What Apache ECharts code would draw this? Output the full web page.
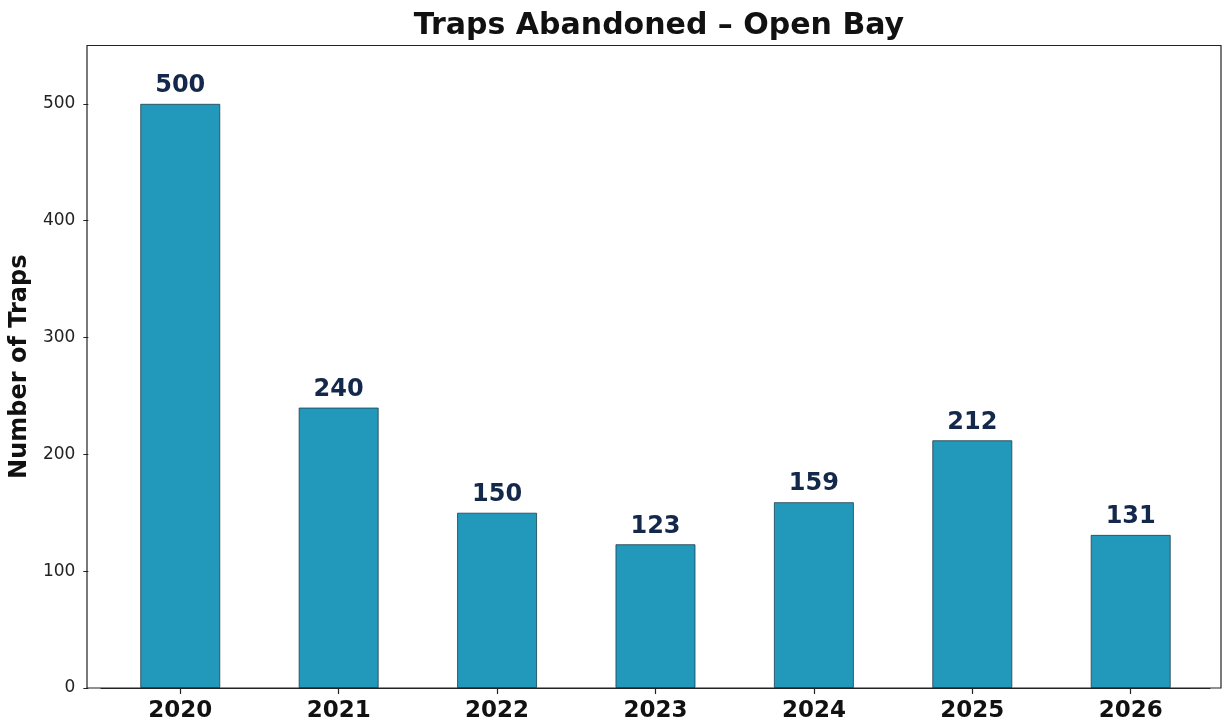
<!DOCTYPE html>
<html>
<head>
<meta charset="utf-8">
<script src="https://cdn.jsdelivr.net/npm/echarts@6/dist/echarts.min.js"></script>
<style>
  html, body { margin: 0; padding: 0; background: #ffffff; }
  #chart { width: 1225px; height: 724px; }
</style>
</head>
<body>
<div id="chart"></div>
<script>
// Abandoned traps per year, Open Bay
const years = ['2020', '2021', '2022', '2023', '2024', '2025', '2026'];
const trapsAbandoned = [500, 240, 150, 123, 159, 212, 131];
const yTicks = [0, 100, 200, 300, 400, 500];

const chart = echarts.init(document.getElementById('chart'), null, { renderer: 'canvas' });

// Plot frame (axes box) in pixels
const frame = { left: 87, top: 45.5, right: 1221, bottom: 688 };
// Category bands: 7 bands of ~158.6 px, first centre at x = 179
const band = (frame.right - frame.left) / 7.15;
const gridLeft = 179 - band / 2;
const gridWidth = band * 7;

const option = {
  backgroundColor: '#ffffff',
  animation: false,
  title: {
    text: 'Traps Abandoned – Open Bay',
    left: (frame.left + frame.right) / 2,
    textAlign: 'center',
    top: 6,
    textStyle: {
      fontFamily: 'DejaVu Sans',
      fontWeight: 'bold',
      fontSize: 30,
      color: '#111111'
    }
  },
  grid: {
    left: gridLeft,
    width: gridWidth,
    top: frame.top,
    height: frame.bottom - frame.top
  },
  xAxis: {
    type: 'category',
    data: years,
    axisLine: { show: true, lineStyle: { color: '#222222', width: 1.2 } },
    axisTick: {
      show: true,
      alignWithLabel: true,
      length: 6,
      lineStyle: { color: '#222222', width: 1.2 }
    },
    axisLabel: {
      margin: 12,
      fontFamily: 'DejaVu Sans',
      fontWeight: 'bold',
      fontSize: 23,
      color: '#111111'
    },
    splitLine: { show: false }
  },
  yAxis: {
    type: 'value',
    min: 0,
    max: 550,
    interval: 100,
    offset: gridLeft - frame.left,
    name: 'Number of Traps',
    nameLocation: 'middle',
    nameRotate: 90,
    nameGap: 47,
    nameTextStyle: {
      fontFamily: 'DejaVu Sans',
      fontWeight: 'bold',
      fontSize: 24,
      color: '#111111'
    },
    axisLine: { show: false },
    axisTick: {
      show: true,
      length: 5,
      customValues: yTicks,
      lineStyle: { color: '#222222', width: 1 }
    },
    axisLabel: {
      margin: 13,
      customValues: yTicks,
      fontFamily: 'DejaVu Sans',
      fontSize: 17,
      color: '#222222'
    },
    splitLine: { show: false }
  },
  graphic: [{
    type: 'rect',
    z: 100,
    silent: true,
    shape: {
      x: frame.left,
      y: frame.top,
      width: frame.right - frame.left,
      height: frame.bottom - frame.top
    },
    style: { fill: 'none', stroke: '#222222', lineWidth: 1.2 }
  }],
  series: [{
    type: 'bar',
    data: trapsAbandoned,
    barWidth: '50.4%',
    itemStyle: {
      color: '#2298bb',
      borderColor: '#1d3f4c',
      borderWidth: 0.8
    },
    label: {
      show: true,
      position: 'top',
      distance: 6,
      fontFamily: 'DejaVu Sans',
      fontWeight: 'bold',
      fontSize: 24,
      color: '#13284a'
    }
  }]
};

chart.setOption(option);
</script>
</body>
</html>
